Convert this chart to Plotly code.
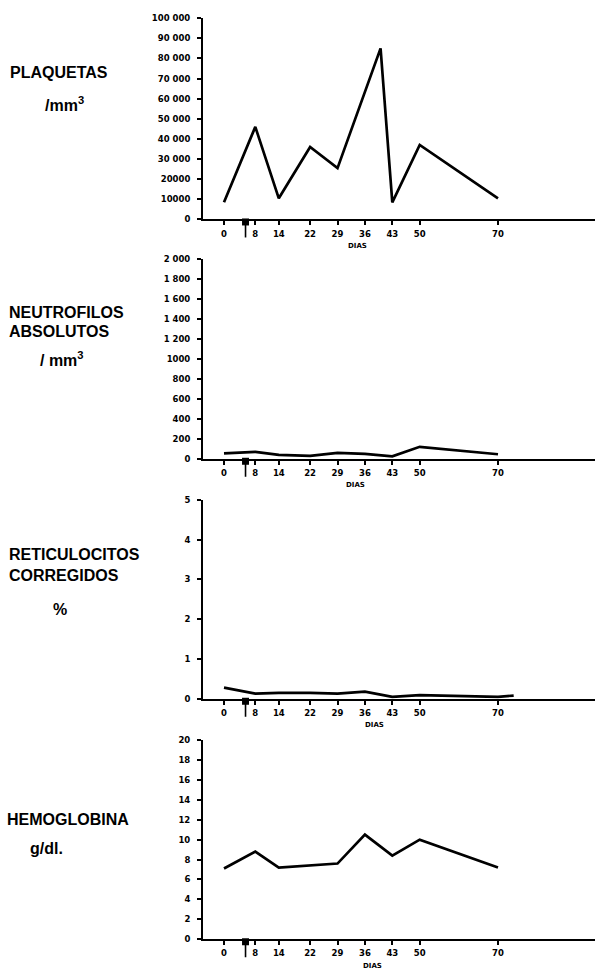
import plotly.graph_objects as go

W, H = 595, 969

# ---- data ----
tick_days = [0, 8, 14, 22, 29, 36, 43, 50, 70]
tick_day_labels = ["0", "8", "14", "22", "29", "36", "43", "50", "70"]
treatment_day = 5.5

plaq_days = [0, 8, 14, 22, 29, 40, 43, 50, 70]
plaquetas = [8500, 46000, 10500, 36000, 25500, 85000, 8500, 37000, 10500]

neut_days = [0, 8, 14, 22, 29, 36, 43, 50, 70]
neutrofilos = [55, 70, 40, 30, 60, 50, 25, 120, 45]

ret_days = [0, 8, 14, 22, 29, 36, 43, 50, 70, 74]
reticulocitos = [0.28, 0.13, 0.15, 0.15, 0.13, 0.18, 0.05, 0.09, 0.05, 0.08]

hb_days = [0, 8, 14, 22, 29, 36, 43, 50, 70]
hemoglobina = [7.1, 8.8, 7.2, 7.4, 7.6, 10.5, 8.4, 10.0, 7.2]

plaq_ticks = [0, 10000, 20000, 30000, 40000, 50000, 60000, 70000, 80000, 90000, 100000]
plaq_ticklabels = ["0", "10000", "20000", "30 000", "40 000", "50 000", "60 000",
                   "70 000", "80 000", "90 000", "100 000"]
neut_ticks = [0, 200, 400, 600, 800, 1000, 1200, 1400, 1600, 1800, 2000]
neut_ticklabels = ["0", "200", "400", "600", "800", "1000", "1 200", "1 400",
                   "1 600", "1 800", "2 000"]
ret_ticks = [0, 1, 2, 3, 4, 5]
ret_ticklabels = ["0", "1", "2", "3", "4", "5"]
hb_ticks = [0, 2, 4, 6, 8, 10, 12, 14, 16, 18, 20]
hb_ticklabels = [str(v) for v in hb_ticks]

panels = [
    dict(x=plaq_days, y=plaquetas, ticks=plaq_ticks, labels=plaq_ticklabels,
         rng=[0, 100000], px_top=13.3, px_bot=216.7, dias_day=34),
    dict(x=neut_days, y=neutrofilos, ticks=neut_ticks, labels=neut_ticklabels,
         rng=[0, 2000], px_top=257, px_bot=458.5, dias_day=33.5),
    dict(x=ret_days, y=reticulocitos, ticks=ret_ticks, labels=ret_ticklabels,
         rng=[0, 5], px_top=500, px_bot=701, dias_day=38.5),
    dict(x=hb_days, y=hemoglobina, ticks=hb_ticks, labels=hb_ticklabels,
         rng=[0, 20], px_top=742.7, px_bot=944, dias_day=38),
]

FONT = "Liberation Sans"
TFONT = "DejaVu Sans"
tickfont = dict(family=TFONT, size=8.5, color="black", weight="bold")

x_left_px, x_right_px = 203, 595
x0_px, x70_px = 224, 498
ppd = (x70_px - x0_px) / 70.0
xrange = [(x_left_px - x0_px) / ppd, (x_right_px - x0_px) / ppd]
treat_xpaper = (x0_px + treatment_day * ppd) / W

fig = go.Figure()
layout = dict(width=W, height=H, margin=dict(l=0, r=0, t=0, b=0),
              plot_bgcolor="white", paper_bgcolor="white", showlegend=False)
annotations = []
shapes = []

for i, p in enumerate(panels, start=1):
    ydom = [1 - p["px_bot"] / H, 1 - p["px_top"] / H]
    xdom = [x_left_px / W, 1.0]
    fig.add_trace(go.Scatter(x=p["x"], y=p["y"], mode="lines",
                             line=dict(color="black", width=2.7),
                             xaxis=f"x{i}", yaxis=f"y{i}", hoverinfo="skip"))
    layout[f"xaxis{i}"] = dict(domain=xdom, range=xrange, anchor=f"y{i}",
                               showline=True, linecolor="black", linewidth=2,
                               showgrid=False, zeroline=False,
                               ticks="outside", ticklen=4, tickwidth=1.5,
                               tickcolor="black",
                               tickvals=tick_days, ticktext=tick_day_labels,
                               tickfont=tickfont, ticklabelstandoff=1)
    layout[f"yaxis{i}"] = dict(domain=ydom, range=p["rng"], anchor=f"x{i}",
                               showline=True, linecolor="black", linewidth=2,
                               showgrid=False, zeroline=False,
                               ticks="outside", ticklen=4, tickwidth=1.5,
                               tickcolor="black",
                               tickvals=p["ticks"], ticktext=p["labels"],
                               tickfont=tickfont, ticklabelstandoff=5)
    # inside ticks to make crosses
    layout[f"xaxis{i+4}"] = dict(overlaying=f"x{i}", anchor=f"y{i}", range=xrange,
                                 showline=False, showgrid=False, zeroline=False,
                                 ticks="inside", ticklen=3, tickwidth=1.5,
                                 tickcolor="black", tickvals=tick_days,
                                 showticklabels=False)
    layout[f"yaxis{i+4}"] = dict(overlaying=f"y{i}", anchor=f"x{i}", range=p["rng"],
                                 showline=False, showgrid=False, zeroline=False,
                                 ticks="inside", ticklen=4, tickwidth=1.5,
                                 tickcolor="black", tickvals=p["ticks"],
                                 showticklabels=False)
    # DIAS label
    annotations.append(dict(text="DIAS", x=p["dias_day"], xref=f"x{i}",
                            y=1 - (p["px_bot"] + 27) / H, yref="paper",
                            showarrow=False, xanchor="center", yanchor="middle",
                            font=dict(family=TFONT, size=7, color="black", weight="bold")))
    # treatment marker: small block on the axis with a stem going down
    yax = ydom[0]
    shapes.append(dict(type="line", xref="paper", yref="paper",
                       x0=treat_xpaper, x1=treat_xpaper,
                       ysizemode="pixel", yanchor=yax, y0=0, y1=-18,
                       line=dict(color="black", width=1.6)))
    shapes.append(dict(type="rect", xref="paper", yref="paper",
                       xsizemode="pixel", xanchor=treat_xpaper, x0=-3.5, x1=3.5,
                       ysizemode="pixel", yanchor=yax, y0=-6, y1=1,
                       fillcolor="black", line=dict(width=0)))

labfont = dict(family=FONT, size=16, color="black", weight="bold")
left_labels = [
    ("PLAQUETAS", 8, 68, "left"),
    ("/mm<sup>3</sup>", 64, 100, "center"),
    ("NEUTROFILOS", 7, 311, "left"),
    ("ABSOLUTOS", 7, 330, "left"),
    ("/ mm<sup>3</sup>", 62, 358, "center"),
    ("RETICULOCITOS", 7, 555, "left"),
    ("CORREGIDOS", 7, 576, "left"),
    ("%", 60, 611, "center"),
    ("HEMOGLOBINA", 5, 823, "left"),
    ("g/dl.", 46, 852, "center"),
]
for txt, px, py, anc in left_labels:
    annotations.append(dict(text=txt, x=px / W, y=1 - py / H, xref="paper", yref="paper",
                            showarrow=False, xanchor=anc, yanchor="middle",
                            font=labfont))

layout["annotations"] = annotations
layout["shapes"] = shapes
fig.update_layout(**layout)
fig.write_html("out.html")
